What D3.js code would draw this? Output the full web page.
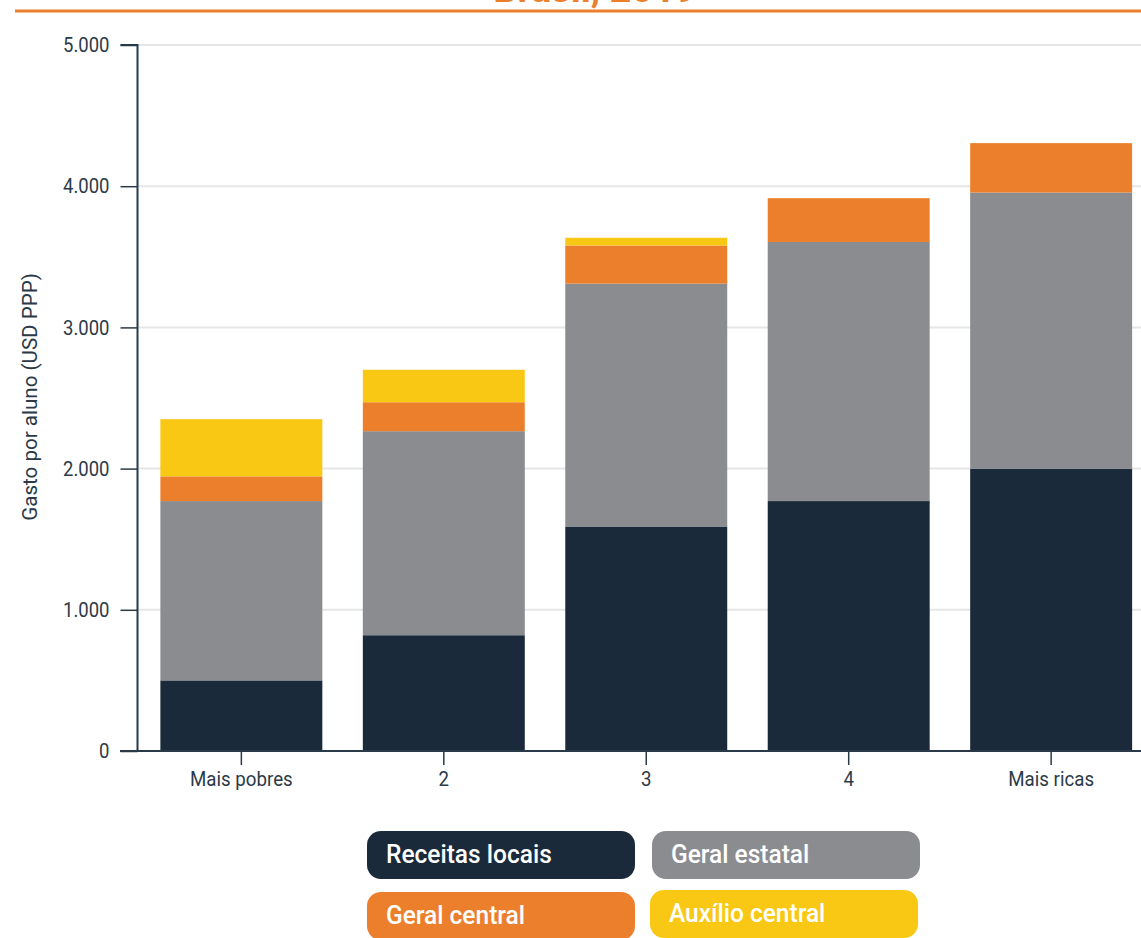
<!DOCTYPE html>
<html>
<head>
<meta charset="utf-8">
<script src="https://cdn.jsdelivr.net/npm/d3@7"></script>
<style>
  html, body { margin: 0; padding: 0; background: #fff; }
  svg { display: block; }
  text { font-family: Roboto, "Noto Sans", sans-serif; }
</style>
</head>
<body>
<svg id="chart" width="1141" height="938"></svg>
<script>
// Per-student spending by wealth quintile, split by funding source
const categories = ["Mais pobres", "2", "3", "4", "Mais ricas"];
const seriesNames = ["Receitas locais", "Geral estatal", "Geral central", "Auxílio central"];
const receitasLocais = [500, 820, 1590, 1770, 2000];
const geralEstatal   = [1270, 1445, 1720, 1835, 1955];
const geralCentral   = [175, 205, 270, 310, 350];
const auxilioCentral = [405, 230, 55, 0, 0];
const yTicks = [0, 1000, 2000, 3000, 4000, 5000];
const titleText = "Brasil, 2019";
const yTitle = "Gasto por aluno (USD PPP)";

const colors = ["#1a2a3a", "#8b8c90", "#ec7f2c", "#f9c814"];

const rows = categories.map((c, i) => ({
  cat: c,
  "Receitas locais": receitasLocais[i],
  "Geral estatal": geralEstatal[i],
  "Geral central": geralCentral[i],
  "Auxílio central": auxilioCentral[i]
}));

// Narrow the glyphs horizontally to get a condensed face from Roboto
function condense(sel, k) {
  sel.each(function () {
    const len = this.getComputedTextLength();
    d3.select(this).attr("textLength", len * k).attr("lengthAdjust", "spacingAndGlyphs");
  });
}

const svg = d3.select("#chart");
const axisX = 137.5, baseY = 751;

const x = d3.scaleBand().domain(categories).range([axisX, 1155]).paddingInner(0.2).paddingOuter(0.113);
const y = d3.scaleLinear().domain([0, 5000]).range([baseY, 45]);
const color = d3.scaleOrdinal().domain(seriesNames).range(colors);

// Title (runs off the top edge) and rule
svg.append("text")
  .attr("x", 595).attr("y", 2)
  .attr("text-anchor", "middle")
  .attr("font-weight", "bold")
  .attr("font-size", 38)
  .attr("fill", "#ec7f2c")
  .text(titleText);
svg.append("line")
  .attr("x1", 15).attr("x2", 1141).attr("y1", 11).attr("y2", 11)
  .attr("stroke", "#ec7f2c").attr("stroke-width", 3);

// Gridlines
svg.append("g")
  .selectAll("line")
  .data(yTicks.filter(d => d > 0))
  .join("line")
  .attr("x1", axisX).attr("x2", 1141)
  .attr("y1", d => y(d)).attr("y2", d => y(d))
  .attr("stroke", "#e6e6e6").attr("stroke-width", 2);

// Stacked bars
const stack = d3.stack().keys(seriesNames)(rows);
svg.append("g")
  .selectAll("g")
  .data(stack)
  .join("g")
  .attr("fill", d => color(d.key))
  .selectAll("rect")
  .data(d => d.filter(p => p[1] - p[0] > 0))
  .join("rect")
  .attr("x", d => x(d.data.cat))
  .attr("width", x.bandwidth())
  .attr("y", d => y(d[1]))
  .attr("height", d => y(d[0]) - y(d[1]));

// Y axis
const yAxis = svg.append("g")
  .attr("transform", `translate(${axisX},0)`)
  .call(d3.axisLeft(y).tickValues(yTicks).tickSize(17).tickPadding(11)
    .tickFormat(d => d3.format(",")(d).replace(/,/g, ".")));
yAxis.select(".domain").attr("d", `M-17,${y(5000)}H0V${baseY}`).attr("stroke", "#2b3a48").attr("stroke-width", 2);
yAxis.selectAll(".tick line").attr("stroke", "#2b3a48").attr("stroke-width", 1.5);
yAxis.selectAll(".tick text")
  .attr("font-family", "Roboto, sans-serif")
  .attr("font-size", 21)
  .attr("fill", "#2b3a48")
  .call(condense, 0.88);

// X axis
const xAxis = svg.append("g")
  .attr("transform", `translate(0,${baseY})`)
  .call(d3.axisBottom(x).tickSize(14).tickPadding(6));
xAxis.select(".domain").attr("d", `M120,0H1141`).attr("stroke", "#2b3a48").attr("stroke-width", 2);
xAxis.selectAll(".tick line").attr("stroke", "#2b3a48").attr("stroke-width", 1.5);
xAxis.selectAll(".tick text")
  .attr("font-family", "Roboto, sans-serif")
  .attr("font-size", 21)
  .attr("fill", "#2b3a48")
  .call(condense, 0.89);

// Y axis title
svg.append("text")
  .attr("transform", `translate(37,397) rotate(-90)`)
  .attr("text-anchor", "middle")
  .attr("font-size", 21)
  .attr("fill", "#2b3a48")
  .text(yTitle)
  .call(condense, 0.98);

// Legend pills
const legendPos = [[367, 831], [652, 831], [367, 892], [650, 890]];
const legend = svg.append("g")
  .selectAll("g")
  .data(seriesNames)
  .join("g")
  .attr("transform", (d, i) => `translate(${legendPos[i][0]},${legendPos[i][1]})`);
legend.append("rect")
  .attr("width", 268).attr("height", 48).attr("rx", 14)
  .attr("fill", d => color(d));
legend.append("text")
  .attr("x", 19).attr("y", 32)
  .attr("font-size", 25)
  .attr("font-weight", 500)
  .attr("fill", "#fff")
  .text(d => d)
  .call(condense, 0.98);
</script>
</body>
</html>
